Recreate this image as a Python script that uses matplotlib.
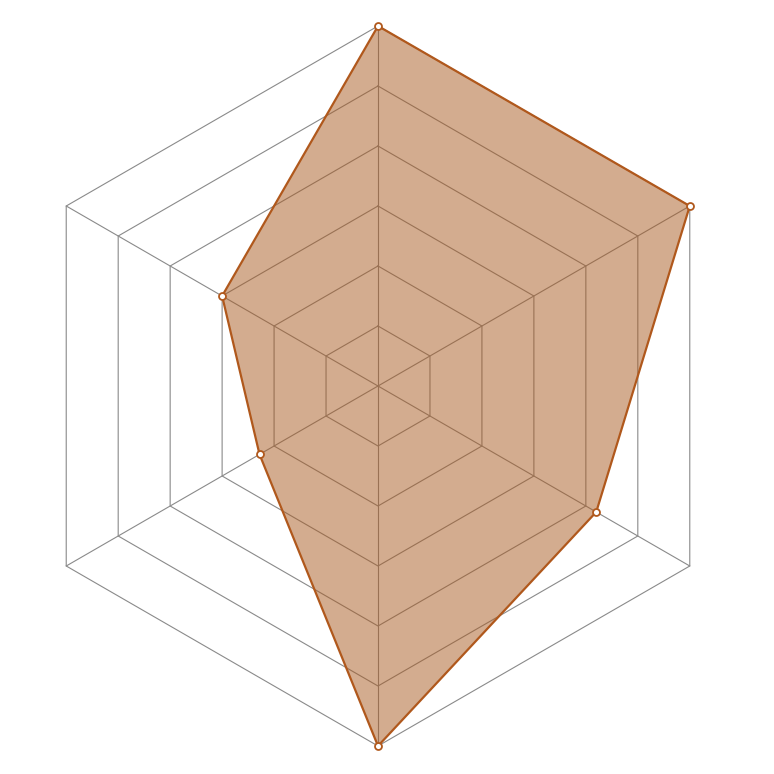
import numpy as np
import matplotlib
matplotlib.use("Agg")
import matplotlib.pyplot as plt

# Data
categories = ["A", "B", "C", "D", "E", "F"]  # clockwise from top (labels not shown)
values = [100, 100, 70, 100, 38, 50]
max_value = 100
n_rings = 6

line_color = "#b0581c"
fill_color = "#a85a20"
grid_color = "#8a8a8a"

fig = plt.figure(figsize=(7.74, 7.74), dpi=100)
ax = fig.add_axes([0, 0, 1, 1])
R = 360.0
ax.set_xlim(-378 / R, (774 - 378) / R)
ax.set_ylim(-388 / R, 386 / R)
ax.set_aspect("equal")
ax.axis("off")

n = len(categories)
angles = np.pi / 2 - np.arange(n) * 2 * np.pi / n
ux, uy = np.cos(angles), np.sin(angles)

# grid rings
for k in range(1, n_rings + 1):
    r = k / n_rings
    xs = np.append(ux * r, ux[0] * r)
    ys = np.append(uy * r, uy[0] * r)
    ax.plot(xs, ys, color=grid_color, lw=0.8, zorder=1)
# spokes
for i in range(n):
    ax.plot([0, ux[i]], [0, uy[i]], color=grid_color, lw=0.8, zorder=1)

# data polygon
v = np.array(values) / max_value
px, py = ux * v, uy * v
ax.fill(px, py, color=fill_color, alpha=0.5, lw=0, zorder=2)
ax.plot(np.append(px, px[0]), np.append(py, py[0]), color=line_color, lw=1.6, zorder=3)
ax.plot(px, py, "o", ms=5, mfc="white", mec=line_color, mew=1.3, ls="none", zorder=4)

fig.savefig("out.png", dpi=100)
